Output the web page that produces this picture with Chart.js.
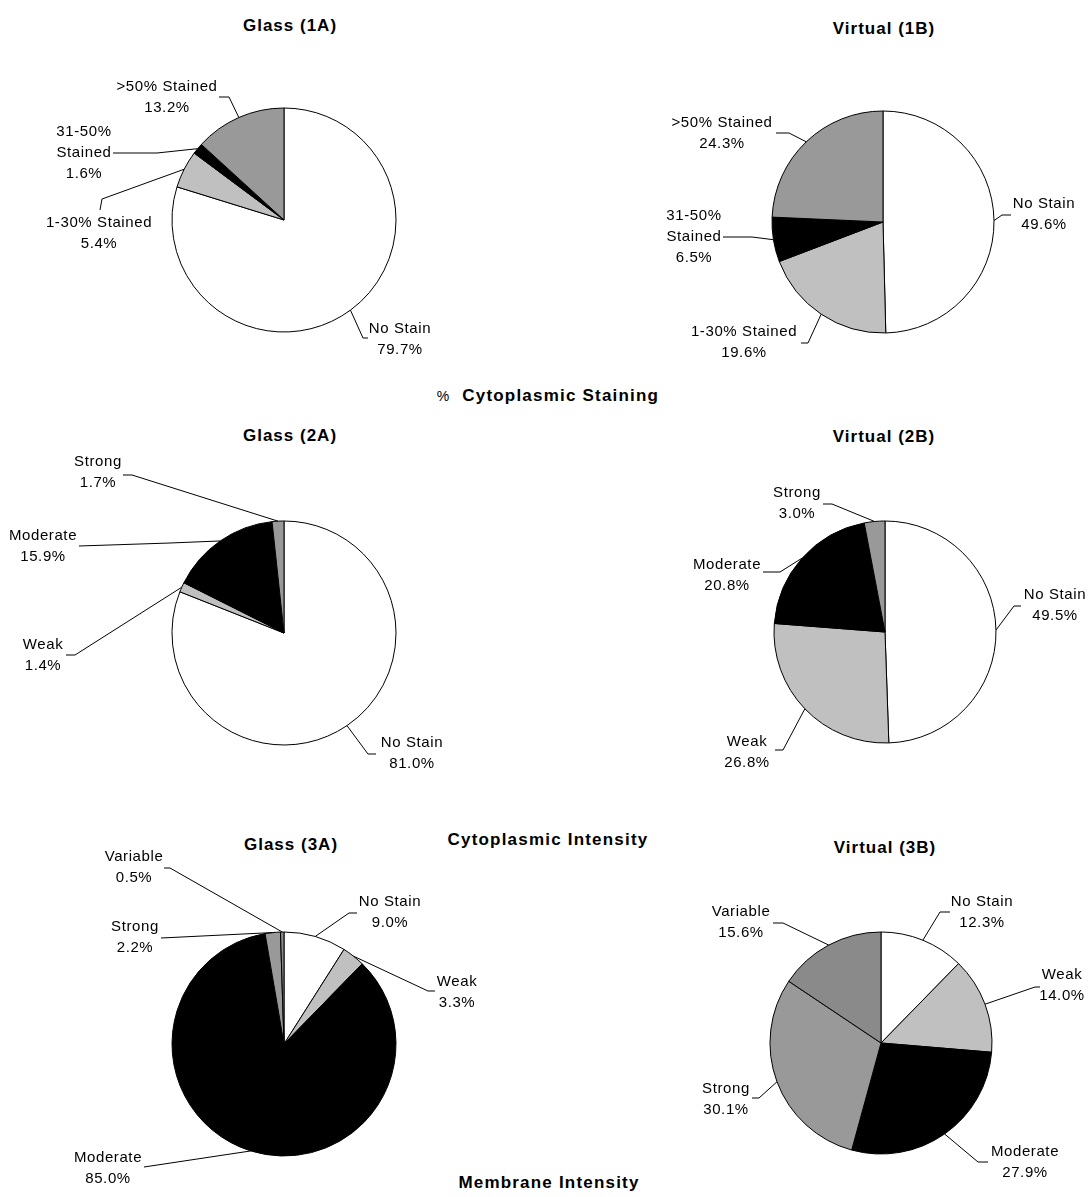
<!DOCTYPE html>
<html>
<head>
<meta charset="utf-8">
<title>Staining pies</title>
<script src="https://cdn.jsdelivr.net/npm/chart.js@4.4.1/dist/chart.umd.min.js"></script>
<style>
  body { margin: 0; background: #fff; }
  #page { position: relative; width: 1088px; height: 1197px; overflow: hidden; font-family: "Liberation Sans", Arial, sans-serif; color: #000; }
  .ttl { position: absolute; transform: translate(-50%, -50%); font-weight: bold; font-size: 17px; letter-spacing: 1px; white-space: nowrap; }
  .head { letter-spacing: 1.2px; }
  .head span { font-weight: normal; font-size: 14px; letter-spacing: 0; margin-right: 13px; }
  canvas { position: absolute; }
</style>
</head>
<body>
<div id="page">
  <div class="ttl" style="left:290px; top:26px">Glass (1A)</div>
  <div class="ttl" style="left:884px; top:29px">Virtual (1B)</div>
  <div class="ttl head" style="left:548px; top:396px"><span>%</span>Cytoplasmic Staining</div>
  <div class="ttl" style="left:290px; top:436px">Glass (2A)</div>
  <div class="ttl" style="left:884px; top:437px">Virtual (2B)</div>
  <div class="ttl head" style="left:548px; top:840px">Cytoplasmic Intensity</div>
  <div class="ttl" style="left:291px; top:845px">Glass (3A)</div>
  <div class="ttl" style="left:885px; top:848px">Virtual (3B)</div>
  <div class="ttl head" style="left:549px; top:1183px">Membrane Intensity</div>
</div>
<script>
// categories
const stainCats = ['No Stain', '1-30% Stained', '31-50% Stained', '>50% Stained'];
const intensityCats = ['No Stain', 'Weak', 'Moderate', 'Strong'];
const membraneCats = ['No Stain', 'Weak', 'Moderate', 'Strong', 'Variable'];

// percentages, same order as the categories
const glass1A = [79.7, 5.4, 1.6, 13.2];
const virtual1B = [49.6, 19.6, 6.5, 24.3];
const glass2A = [81.0, 1.4, 15.9, 1.7];
const virtual2B = [49.5, 26.8, 20.8, 3.0];
const glass3A = [9.0, 3.3, 85.0, 2.2, 0.5];
const virtual3B = [12.3, 14.0, 27.9, 30.1, 15.6];

const sliceColors = ['#ffffff', '#c0c0c0', '#000000', '#999999', '#8a8a8a'];

// label placement, offsets from the pie centre:
// text = centre of first text line, line = leader points after the slice edge
const spots1A = [
  { text: [116, 109], line: [[79, 118], [84, 118]] },
  { text: [-185, 3], line: [[-182, -21], [-184, -10]] },
  { text: [-200, -88], wrap: true, line: [[-127, -67], [-171, -67]] },
  { text: [-117, -133], line: [[-55, -123], [-65, -123]] }
];
const spots1B = [
  { text: [161, -18], line: [[119, -7], [128, -7]] },
  { text: [-139, 110], line: [[-75, 121], [-82, 121]] },
  { text: [-189, -6], wrap: true, line: [[-131, 15], [-160, 15]] },
  { text: [-161, -99], line: [[-94, -89], [-107, -89]] }
];
const spots2A = [
  { text: [128, 110], line: [[84, 121], [92, 121]] },
  { text: [-241, 12], line: [[-209, 22], [-218, 22]] },
  { text: [-241, -97], line: [[-114, -90], [-205, -87]] },
  { text: [-186, -171], line: [[-152, -158], [-161, -158]] }
];
const spots2B = [
  { text: [170, -37], line: [[129, -26], [136, -26]] },
  { text: [-138, 110], line: [[-102, 118], [-110, 118]] },
  { text: [-158, -67], line: [[-105, -60], [-122, -60]] },
  { text: [-88, -139], line: [[-53, -128], [-62, -128]] }
];
const spots3A = [
  { text: [106, -142], line: [[65, -131], [73, -131]] },
  { text: [173, -62], line: [[144, -53], [151, -53]] },
  { text: [-176, 114], line: [[-140, 123]] },
  { text: [-149, -117], line: [[-123, -106]] },
  { text: [-150, -187], line: [[-114, -176], [-120, -176]] }
];
const spots3B = [
  { text: [101, -141], line: [[59, -131], [69, -131]] },
  { text: [181, -68], line: [[154, -56], [159, -56]] },
  { text: [144, 109], line: [[97, 119], [107, 119]] },
  { text: [-155, 46], line: [[-122, 55], [-129, 55]] },
  { text: [-140, -131], line: [[-98, -120], [-108, -120]] }
];

const pies = [
  { cx: 284, cy: 220, r: 112, cats: stainCats, vals: glass1A, spots: spots1A },
  { cx: 883, cy: 222, r: 111, cats: stainCats, vals: virtual1B, spots: spots1B },
  { cx: 284, cy: 633, r: 112, cats: intensityCats, vals: glass2A, spots: spots2A },
  { cx: 885, cy: 632, r: 111, cats: intensityCats, vals: virtual2B, spots: spots2B },
  { cx: 284, cy: 1044, r: 112, cats: membraneCats, vals: glass3A, spots: spots3A },
  { cx: 881, cy: 1043, r: 111, cats: membraneCats, vals: virtual3B, spots: spots3B }
];

const W = 580, H = 440;

// draws "name / value%" beside each slice with a leader line from the slice's mid-arc
function leaderLabels(spots) {
  return {
    id: 'leaderLabels',
    afterDatasetsDraw(chart) {
      const ctx = chart.ctx;
      const meta = chart.getDatasetMeta(0);
      const values = chart.data.datasets[0].data;
      ctx.save();
      ctx.strokeStyle = '#000';
      ctx.fillStyle = '#000';
      ctx.lineWidth = 1;
      ctx.font = '15px "Liberation Sans", Arial, sans-serif';
      ctx.letterSpacing = '0.6px';
      ctx.textAlign = 'center';
      ctx.textBaseline = 'middle';
      meta.data.forEach((arc, i) => {
        const p = arc.getProps(['x', 'y', 'startAngle', 'endAngle', 'outerRadius'], true);
        const mid = (p.startAngle + p.endAngle) / 2;
        const s = spots[i];
        ctx.beginPath();
        ctx.moveTo(p.x + Math.cos(mid) * p.outerRadius, p.y + Math.sin(mid) * p.outerRadius);
        s.line.forEach(pt => ctx.lineTo(p.x + pt[0], p.y + pt[1]));
        ctx.stroke();
        const name = chart.data.labels[i];
        const lines = s.wrap ? name.split(' ') : [name];
        lines.push(values[i].toFixed(1) + '%');
        lines.forEach((t, j) => ctx.fillText(t, p.x + s.text[0], p.y + s.text[1] + j * 21));
      });
      ctx.restore();
    }
  };
}

const page = document.getElementById('page');
pies.forEach(pie => {
  const cv = document.createElement('canvas');
  cv.width = W;
  cv.height = H;
  cv.style.left = (pie.cx - W / 2) + 'px';
  cv.style.top = (pie.cy - H / 2) + 'px';
  page.appendChild(cv);
  new Chart(cv, {
    type: 'pie',
    data: {
      labels: pie.cats,
      datasets: [{
        data: pie.vals,
        backgroundColor: sliceColors.slice(0, pie.vals.length),
        borderColor: '#000',
        borderWidth: 1,
        radius: pie.r
      }]
    },
    options: {
      responsive: false,
      animation: false,
      events: [],
      layout: { padding: 0 },
      plugins: { legend: { display: false }, tooltip: { enabled: false } }
    },
    plugins: [leaderLabels(pie.spots)]
  });
});
</script>
</body>
</html>
